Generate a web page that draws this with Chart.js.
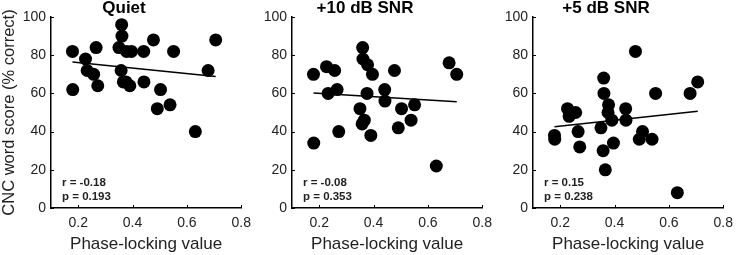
<!DOCTYPE html>
<html>
<head>
<meta charset="utf-8">
<script src="https://cdn.jsdelivr.net/npm/chart.js@4.4.0/dist/chart.umd.min.js"></script>
<style>
  html, body { margin: 0; padding: 0; background: #fff; }
  #wrap { position: relative; width: 741px; height: 255px; overflow: hidden; }
  .panel { position: absolute; top: 0; width: 258px; height: 255px; }
</style>
</head>
<body>
<div id="wrap">
  <div class="panel" style="left:0px"><canvas id="c0"></canvas></div>
  <div class="panel" style="left:241px"><canvas id="c1"></canvas></div>
  <div class="panel" style="left:482px"><canvas id="c2"></canvas></div>
</div>
<script>
// phase-locking value per listener (same x in every panel)
const plv = [0.179, 0.180, 0.227, 0.233, 0.257, 0.266, 0.272, 0.350, 0.360, 0.361, 0.358, 0.366,
             0.378, 0.376, 0.390, 0.396, 0.441, 0.442, 0.477, 0.503, 0.491, 0.538, 0.551, 0.631, 0.678, 0.706];

const quietScores = [82, 62, 78, 72, 70, 84, 64, 84, 96, 90, 72, 66,
                     82, 66, 64, 82, 82, 66, 88, 62, 52, 54, 82, 40, 72, 88];
const snr10Scores = [70, 34, 74, 60, 72, 62, 40, 52, 84, 78, 44, 46,
                     75, 60, 38, 70, 62, 56, 72, 52, 42, 46, 54, 22, 76, 70];
const snr5Scores  = [38, 36, 52, 48, 50, 40, 32, 42, 68, 60, 30, 20,
                     54, 50, 46, 34, 52, 46, 82, 40, 36, 36, 60, 8, 60, 66];

// least-squares lines, end points
const fitX = [0.179, 0.706];
const quietFit = [76.4, 68.8];
const snr10Fit = [60.2, 55.6];
const snr5Fit = [42.5, 50.7];

const titles = ['Quiet', '+10 dB SNR', '+5 dB SNR'];
const rLabels = ['r = -0.18', 'r = -0.08', 'r = 0.15'];
const pLabels = ['p = 0.193', 'p = 0.353', 'p = 0.238'];
const xTicks = [0.2, 0.4, 0.6, 0.8];
const yTicks = [0, 20, 40, 60, 80, 100];

const FONT = '"Liberation Sans", Arial, Helvetica, sans-serif';

const panels = [
  { scores: quietScores, fit: quietFit },
  { scores: snr10Scores, fit: snr10Fit },
  { scores: snr5Scores, fit: snr5Fit },
];

// MATLAB style: ticks point into the axes, r / p text in lower left
const extras = {
  id: 'extras',
  afterDraw(chart) {
    const { ctx, chartArea, scales } = chart;
    const i = chart.options.plugins.extras.index;
    ctx.save();
    ctx.strokeStyle = '#000';
    ctx.lineWidth = 1;
    xTicks.forEach(v => {
      const px = Math.round(scales.x.getPixelForValue(v)) + 0.5;
      ctx.beginPath();
      ctx.moveTo(px, chartArea.bottom);
      ctx.lineTo(px, chartArea.bottom - 3);
      ctx.stroke();
    });
    yTicks.forEach(v => {
      const py = Math.round(scales.y.getPixelForValue(v)) + 0.5;
      ctx.beginPath();
      ctx.moveTo(chartArea.left, py);
      ctx.lineTo(chartArea.left + 3, py);
      ctx.stroke();
    });
    ctx.fillStyle = '#222';
    ctx.font = 'bold 11.5px ' + FONT;
    ctx.textBaseline = 'middle';
    ctx.textAlign = 'left';
    ctx.fillText(rLabels[i], chartArea.left + 11, chartArea.bottom - 25);
    ctx.fillText(pLabels[i], chartArea.left + 11, chartArea.bottom - 11);
    ctx.restore();
  }
};

panels.forEach((p, i) => {
  const ctx = document.getElementById('c' + i).getContext('2d');
  new Chart(ctx, {
    type: 'scatter',
    data: {
      datasets: [
        {
          data: plv.map((x, k) => ({ x: x, y: p.scores[k] })),
          backgroundColor: '#000',
          borderWidth: 0,
          pointRadius: 6.5,
          pointHoverRadius: 6.5,
        },
        {
          type: 'line',
          data: fitX.map((x, k) => ({ x: x, y: p.fit[k] })),
          borderColor: '#000',
          borderWidth: 1.5,
          pointRadius: 0,
          fill: false,
        }
      ]
    },
    options: {
      responsive: true,
      maintainAspectRatio: false,
      animation: false,
      layout: { padding: { left: 0, right: 10, top: 0, bottom: 0 } },
      plugins: {
        legend: { display: false },
        tooltip: { enabled: false },
        title: {
          display: true,
          text: titles[i],
          color: '#000',
          font: { family: FONT, size: 17, weight: 'bold', lineHeight: 1.0 },
          padding: { top: 0, bottom: 0 },
        },
        extras: { index: i },
      },
      scales: {
        x: {
          type: 'linear',
          min: 0.1,
          max: 0.8,
          afterBuildTicks: s => { s.ticks = xTicks.map(v => ({ value: v })); },
          afterFit: s => { s.height = 47; },
          grid: { display: false, drawTicks: false },
          border: { display: true, color: '#000', width: 1.5 },
          ticks: {
            color: '#222',
            padding: 7,
            maxRotation: 0,
            font: { family: FONT, size: 14 },
            callback: v => v.toFixed(1),
          },
          title: {
            display: true,
            text: 'Phase-locking value',
            color: '#222',
            font: { family: FONT, size: 17 },
            padding: { top: 2, bottom: 0 },
          },
        },
        y: {
          min: 0,
          max: 100,
          afterBuildTicks: s => { s.ticks = yTicks.map(v => ({ value: v })); },
          afterFit: s => { s.width = 51; },
          grid: { display: false, drawTicks: false },
          border: { display: true, color: '#000', width: 1.5 },
          ticks: {
            color: '#222',
            padding: 5,
            font: { family: FONT, size: 14 },
          },
          title: {
            display: i === 0,
            text: 'CNC word score (% correct)',
            color: '#222',
            font: { family: FONT, size: 16.5 },
            padding: { top: 0, bottom: 0 },
          },
        }
      }
    },
    plugins: [extras]
  });
});
</script>
</body>
</html>
